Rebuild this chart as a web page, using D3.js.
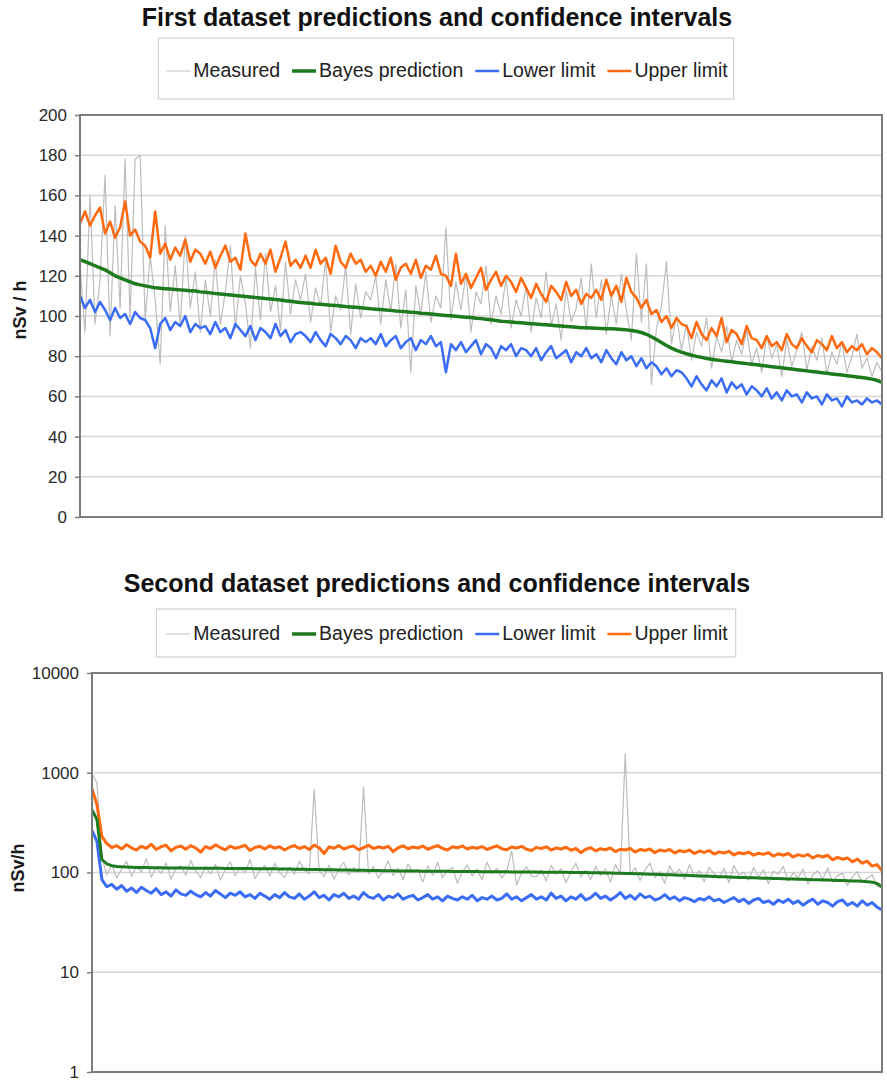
<!DOCTYPE html>
<html>
<head>
<meta charset="utf-8">
<script src="https://cdn.jsdelivr.net/npm/d3@7"></script>
<style>
  body { margin: 0; background: #fff; }
  text { font-family: "Liberation Sans", Arial, sans-serif; }
</style>
</head>
<body>
<svg id="chart" width="887" height="1082"></svg>
<script>
/* Series labels and tick values */
var seriesLabels = ["Measured", "Bayes prediction", "Lower limit", "Upper limit"];
var ticks1 = [0, 20, 40, 60, 80, 100, 120, 140, 160, 180, 200];
var ticks2 = [1, 10, 100, 1000, 10000];

/* First dataset (nSv/h) */
var set1Measured = [
  125,92,160,96,118,170,90,155,104,178,99,178,180,98,130,108,76,145,102,125,95,140,104,122,92,
  118,100,128,96,112,135,94,120,106,84,124,98,131,102,115,93,127,101,118,108,
  121,97,114,105,128,92,110,103,125,91,116,99,112,
  108,120,96,118,102,126,94,113,72,115,101,122,97,110,104,
  144,98,117,103,121,92,112,106,125,96,110,101,119,94,108,100,
  115,92,109,99,122,95,106,88,113,97,104,119,93,126,
  99,118,91,110,96,121,103,88,131,97,126,66,
  94,105,127,86,100,83,
  96,78,92,85,99,74,90,82,95,77,88,81,93,76,
  84,72,90,79,86,70,88,75,83,92,73,85,78,89,71,82,76,87,72,80,91,74,79,70,77,72
];
var set1Bayes = [
  128,127,126,125,124,123,121.5,120,119,118,
  117,116,115.5,115,114.5,114,113.8,113.6,113.4,113.2,
  113,112.8,112.6,112.4,112,111.8,111.5,111.2,111,110.7,
  110.5,110.2,110,109.7,109.5,109.2,109,108.7,108.5,108.2,
  108,107.6,107.3,107,106.7,106.5,106.3,106,105.8,105.6,
  105.4,105.2,105,104.7,104.5,104.3,104.1,103.9,103.6,103.4,
  103.2,103,102.8,102.5,102.3,102.1,101.9,101.7,101.4,101.2,
  101,100.8,100.5,100.3,100.1,99.9,99.6,99.4,99.2,98.9,
  98.7,98.4,98.1,97.8,97.4,97.2,97,96.8,96.6,96.4,
  96.2,96,95.8,95.6,95.4,95.2,95,94.8,94.6,94.4,
  94.2,94.1,94,93.9,93.8,93.7,93.6,93.5,93.3,93.1,
  92.8,92.4,91.8,90.9,89.7,88.3,86.8,85.3,84,82.9,
  82,81.2,80.5,79.9,79.4,78.9,78.5,78.1,77.8,77.5,
  77.2,76.9,76.6,76.3,76,75.7,75.4,75.1,74.8,74.5,
  74.2,73.9,73.6,73.3,73,72.7,72.4,72.1,71.8,71.5,
  71.2,70.9,70.6,70.3,70,69.7,69.4,69,68.6,68,
  67
];
var set1Lower = [
  110,104,108,102,107,
  103,98,104,99,101,96,102,99,
  98,94,84,96,99,93,97,95,100,92,96,94,
  95,91,97,92,94,89,96,93,90,95,88,94,92,89,96,90,93,87,91,92,
  90,87,92,88,85,91,89,86,90,88,84,89,87,
  89,86,91,85,88,90,84,87,89,83,88,86,90,85,87,
  72,86,83,87,82,85,88,81,86,84,79,85,83,86,80,84,
  83,80,84,78,82,85,79,81,83,77,82,80,84,79,
  81,77,83,79,76,82,78,80,75,79,74,77,
  75,71,74,70,73,72,
  69,65,70,66,63,68,65,69,62,67,64,66,61,65,
  63,60,64,59,62,58,63,60,61,57,62,59,60,56,61,58,59,55,60,57,58,56,59,57,58,56
];
var set1Upper = [
  146,152,145,150,154,
  141,147,139,144,157,140,143,137,
  135,129,152,131,136,128,134,130,138,127,133,131,
  126,132,124,130,135,127,129,123,141,128,125,131,126,133,122,129,137,125,128,124,
  130,124,133,126,129,121,135,127,124,131,126,128,122,
  125,120,127,122,129,118,124,126,121,128,119,125,123,130,121,
  120,115,131,116,121,114,119,124,113,118,122,115,120,117,112,119,
  114,109,116,111,107,115,112,108,117,110,113,106,111,109,
  113,108,118,110,115,107,119,112,109,104,108,101,
  103,97,100,94,99,96,
  95,89,97,91,88,94,90,99,87,93,91,86,95,89,
  88,84,90,85,87,83,91,86,84,89,85,82,88,86,83,90,84,87,82,85,83,86,81,84,82,79
];

/* Second dataset (nSv/h, log axis) */
var set2Measured = [
  980,790,140,95,120,88,108,130,92,115,
  101,138,90,112,98,125,86,109,117,94,
  132,103,89,115,97,121,84,106,128,93,
  111,99,135,87,105,118,92,124,100,89,
  113,96,130,105,98,680,104,91,119,86,
  108,126,95,112,100,720,97,115,88,104,
  131,93,110,85,122,99,107,80,116,94,
  126,89,105,113,78,101,119,92,108,84,
  127,97,110,88,103,165,75,99,114,92,
  91,106,82,118,96,109,79,102,124,90,
  105,85,115,93,109,80,120,98,1550,94,
  112,83,106,124,89,102,78,116,95,108,
  85,120,92,104,81,113,97,88,110,79,
  118,94,100,84,112,90,106,77,103,96,
  115,82,99,88,108,76,95,104,85,111,
  80,93,98,74,90,102,79,88,95,73,
  70
];
var set2Bayes = [
  425,340,135,122,117,115,114,113.5,113,112.5,
  112.2,112,111.8,111.6,111.4,111.2,111,110.9,110.8,110.7,
  110.6,110.5,110.4,110.3,110.2,110.1,110,109.9,109.8,109.7,
  109.6,109.5,109.4,109.3,109.2,109.1,109,108.8,108.6,108.4,
  108.2,108,107.8,107.6,107.4,107.2,107,106.8,106.6,106.4,
  106.2,106,105.8,105.6,105.4,105.2,105,104.8,104.6,104.4,
  104.2,104,103.8,103.6,103.5,103.4,103.3,103.2,103.1,103,
  102.9,102.8,102.7,102.6,102.5,102.4,102.3,102.2,102.1,102,
  101.9,101.8,101.7,101.6,101.5,101.4,101.3,101.2,101.1,101,
  100.9,100.8,100.7,100.6,100.5,100.4,100.3,100.2,100.1,100,
  99.8,99.6,99.4,99.2,99,98.7,98.4,98.1,97.8,97.5,
  97.2,96.9,96.6,96.3,96,95.6,95.2,94.8,94.4,94,
  93.6,93.2,92.8,92.4,92,91.6,91.2,90.8,90.4,90,
  89.6,89.3,89,88.7,88.4,88.1,87.8,87.5,87.2,86.9,
  86.6,86.3,86,85.7,85.4,85.1,84.8,84.5,84.2,83.9,
  83.6,83.3,83,82.7,82.4,82,81.6,81,80,77.5,
  72
];
var set2Lower = [
  265,205,85,72,76,68,74,65,70,63,
  71,66,62,69,60,64,58,67,61,59,
  65,60,57,63,58,66,61,56,62,59,
  64,57,60,55,62,58,54,60,56,63,
  57,55,61,54,58,64,56,59,53,60,
  57,62,55,58,54,63,57,55,60,53,
  58,56,61,54,57,59,53,56,60,54,
  57,52,58,55,53,57,54,59,52,56,
  54,58,53,55,61,54,57,52,56,60,
  54,57,53,62,55,58,52,57,54,60,
  53,56,62,55,58,53,57,63,55,59,
  54,61,56,58,53,55,60,54,57,52,
  56,54,51,55,53,57,52,54,50,53,
  56,51,54,49,53,55,50,52,48,53,
  50,54,49,52,47,51,54,48,52,50,
  46,51,53,47,50,46,52,47,50,45,
  42
];
var set2Upper = [
  690,480,230,195,178,186,172,190,177,168,
  183,175,192,170,181,188,165,179,184,171,
  186,176,160,182,174,189,178,169,184,175,
  180,187,166,178,183,172,185,176,181,168,
  179,186,174,182,170,188,177,155,181,175,
  186,172,180,184,169,178,187,174,181,176,
  183,162,177,185,173,180,176,184,171,179,
  186,174,168,181,177,184,172,179,175,182,
  170,178,185,173,169,180,176,183,171,166,
  178,174,181,168,176,172,179,167,174,158,
  171,177,165,173,169,176,162,171,168,174,
  160,170,166,172,158,168,164,170,157,166,
  161,168,155,164,159,166,153,161,157,163,
  150,158,154,160,149,156,152,158,146,154,
  149,155,143,151,146,152,140,148,143,149,
  134,142,136,140,128,136,124,130,116,120,
  104
];

var colors = ["#bdbdbd", "#1d7a1d", "#3b6cf6", "#ff6a10"];

var svg = d3.select("#chart");

function drawPanel(o) {
    var g = svg.append("g");

    /* Title */
    g.append("text")
        .attr("x", 437)
        .attr("y", o.titleY)
        .attr("text-anchor", "middle")
        .attr("font-size", 25)
        .attr("font-weight", "bold")
        .attr("fill", "#111")
        .text(o.title);

    /*** Legend ***/
    var legend = g.append("g");
    var box = legend.append("rect")
        .attr("fill", "#fff")
        .attr("stroke", "#d2d2d2")
        .attr("stroke-width", 1.2);
    var cx = o.legendPad;
    var lineY = o.legendBase - 6;
    seriesLabels.forEach(function(label, i) {
        legend.append("line")
            .attr("x1", cx).attr("x2", cx + 24)
            .attr("y1", lineY).attr("y2", lineY)
            .attr("stroke", i == 0 ? "#d6d6d6" : colors[i])
            .attr("stroke-width", i == 1 ? 3.5 : (i == 0 ? 1.5 : 2.5));
        var t = legend.append("text")
            .attr("x", cx + 27)
            .attr("y", o.legendBase)
            .attr("font-size", 19.5)
            .attr("fill", "#222")
            .text(label);
        cx += 27 + t.node().getComputedTextLength() + 12;
    });
    var boxW = cx - 12 + o.legendPad - 2;
    box.attr("x", 0).attr("y", o.legendTop)
        .attr("width", boxW).attr("height", o.legendH);
    legend.attr("transform", "translate(" + (446 - boxW / 2) + ",0)");

    /*** Plot area ***/
    var n = o.series[0].length;
    var x = d3.scaleLinear().domain([0, n - 1]).range([o.left, o.right]);
    var y = o.log
        ? d3.scaleLog().domain([ticks2[0], ticks2[ticks2.length - 1]]).range([o.bottom, o.top])
        : d3.scaleLinear().domain([ticks1[0], ticks1[ticks1.length - 1]]).range([o.bottom, o.top]);

    g.append("g").attr("class", "grid")
        .selectAll("line")
        .data(o.ticks)
        .enter()
        .append("line")
        .attr("x1", o.left).attr("x2", o.right)
        .attr("y1", d => y(d)).attr("y2", d => y(d))
        .attr("stroke", "#d6d6d6")
        .attr("stroke-width", 1.5);

    var clipId = "clip" + o.id;
    g.append("clipPath").attr("id", clipId)
        .append("rect")
        .attr("x", o.left).attr("y", o.top)
        .attr("width", o.right - o.left).attr("height", o.bottom - o.top);

    var line = d3.line()
        .x((d, i) => x(i))
        .y(d => y(d));

    // draw order: measured, lower, upper, prediction on top
    [0, 2, 3, 1].forEach(function(k) {
        g.append("path")
            .datum(o.series[k])
            .attr("clip-path", "url(#" + clipId + ")")
            .attr("d", line)
            .attr("fill", "none")
            .attr("stroke", colors[k])
            .attr("stroke-width", o.widths[k])
            .attr("stroke-linejoin", "round");
    });

    g.append("rect")
        .attr("x", o.left).attr("y", o.top)
        .attr("width", o.right - o.left).attr("height", o.bottom - o.top)
        .attr("fill", "none")
        .attr("stroke", "#7c7c7c")
        .attr("stroke-width", 2);

    /* y axis */
    var axis = g.append("g")
        .attr("transform", "translate(" + o.left + ",0)")
        .call(d3.axisLeft(y).tickValues(o.ticks).tickSize(5).tickPadding(8)
            .tickFormat(d => String(d)));
    axis.select(".domain").remove();
    axis.selectAll(".tick line").attr("stroke", "#7c7c7c").attr("stroke-width", 1.5);
    axis.selectAll(".tick text")
        .attr("font-size", 17)
        .attr("font-family", "Liberation Sans, Arial, sans-serif")
        .attr("fill", "#2a2a2a");

    g.append("text")
        .attr("transform", "translate(" + o.yLabelX + "," + o.yLabelY + ") rotate(-90)")
        .attr("text-anchor", "middle")
        .attr("font-size", 18)
        .attr("font-weight", "bold")
        .attr("fill", "#1a1a1a")
        .text(o.yLabel);
}

drawPanel({
    id: 1,
    title: "First dataset predictions and confidence intervals",
    titleY: 26,
    legendTop: 38, legendH: 61, legendBase: 77, legendPad: 8,
    left: 80, right: 882, top: 115, bottom: 517,
    log: false,
    ticks: ticks1,
    yLabel: "nSv / h", yLabelX: 26, yLabelY: 310,
    series: [set1Measured, set1Bayes, set1Lower, set1Upper],
    widths: [1.2, 3.5, 2.5, 2.5]
});

drawPanel({
    id: 2,
    title: "Second dataset predictions and confidence intervals",
    titleY: 592,
    legendTop: 609, legendH: 48, legendBase: 640, legendPad: 10,
    left: 92, right: 882, top: 673, bottom: 1072,
    log: true,
    ticks: ticks2,
    yLabel: "nSv/h", yLabelX: 24, yLabelY: 868,
    series: [set2Measured, set2Bayes, set2Lower, set2Upper],
    widths: [1.2, 3, 3, 3]
});
</script>
</body>
</html>
